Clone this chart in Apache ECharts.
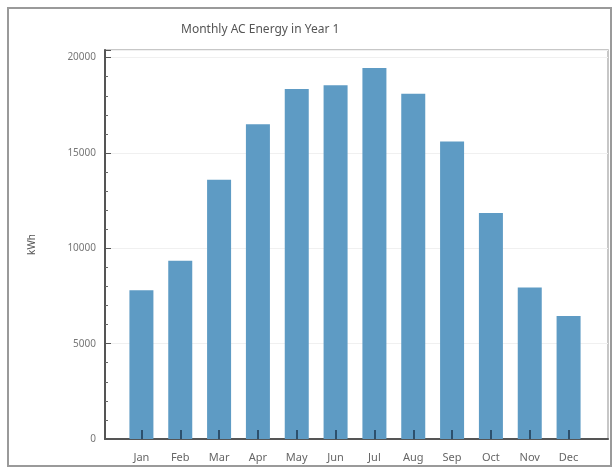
<!DOCTYPE html>
<html>
<head>
<meta charset="utf-8">
<script src="https://cdn.jsdelivr.net/npm/echarts@6/dist/echarts.min.js"></script>
<style>
  html, body { margin: 0; padding: 0; background: #fff; }
  #chart { width: 615px; height: 470px; }
</style>
</head>
<body>
<div id="chart"></div>
<script>
// Monthly AC energy output for the first year (kWh)
const months = ['Jan', 'Feb', 'Mar', 'Apr', 'May', 'Jun', 'Jul', 'Aug', 'Sep', 'Oct', 'Nov', 'Dec'];
const energyKWh = [7800, 9350, 13600, 16500, 18350, 18550, 19450, 18100, 15600, 11850, 7950, 6450];
const yTicks = { min: 0, max: 20400, step: 5000 };
const titleText = 'Monthly AC Energy in Year 1';
const yAxisTitle = 'kWh';

const chart = echarts.init(document.getElementById('chart'), null, { renderer: 'canvas' });
const font = "'Noto Sans', 'Open Sans', sans-serif";

chart.setOption({
  backgroundColor: '#fff',
  animation: false,
  textStyle: { fontFamily: font },
  title: {
    text: titleText,
    left: 176,
    top: 19,
    textStyle: { fontSize: 12, fontWeight: 'normal', color: '#555', fontFamily: font }
  },
  graphic: [{
    type: 'rect',
    shape: { x: 8, y: 8, width: 603, height: 458 },
    style: { fill: null, stroke: '#9a9a9a', lineWidth: 2 },
    silent: true
  }],
  grid: [
    // outer plot frame holding the value axis
    { left: 105, right: 7, top: 50, bottom: 31, show: true, borderColor: '#b5b5b5', borderWidth: 1.5 },
    // inset band where the month bars sit
    { left: 122, right: 27, top: 50, bottom: 31 }
  ],
  xAxis: [
    {
      gridIndex: 0, type: 'value', min: 0, max: 1,
      axisLine: { show: true, lineStyle: { color: '#555', width: 2 } },
      axisTick: { show: false }, axisLabel: { show: false }, splitLine: { show: false }
    },
    {
      gridIndex: 1, type: 'category', data: months, z: 5,
      axisLine: { show: false },
      axisTick: { show: true, inside: true, alignWithLabel: true, length: 9, lineStyle: { color: '#1d3850', width: 1.5 } },
      axisLabel: { fontSize: 11, color: '#666', margin: 13, fontFamily: font },
      splitLine: { show: false }
    }
  ],
  yAxis: [
    {
      gridIndex: 0, type: 'value', min: yTicks.min, max: yTicks.max, interval: yTicks.step,
      name: yAxisTitle, nameLocation: 'middle', nameGap: 68, nameRotate: 90,
      nameTextStyle: { fontSize: 10, color: '#555', fontFamily: font },
      axisLine: { show: true, lineStyle: { color: '#555', width: 2 } },
      axisTick: { show: true, inside: true, length: 6, lineStyle: { color: '#555' } },
      minorTick: { show: true, splitNumber: 5, length: 3, lineStyle: { color: '#666' } },
      axisLabel: {
        fontSize: 10, color: '#777', margin: 9, showMaxLabel: false, fontFamily: font,
        formatter: v => String(v)
      },
      splitLine: { show: true, lineStyle: { color: '#f0f0f0', width: 1 } }
    },
    {
      gridIndex: 1, type: 'value', min: yTicks.min, max: yTicks.max, show: false,
      splitLine: { show: false }
    }
  ],
  series: [{
    type: 'bar',
    xAxisIndex: 1, yAxisIndex: 1,
    data: energyKWh,
    barWidth: 24,
    itemStyle: { color: '#5e9bc4' }
  }]
});
</script>
</body>
</html>
